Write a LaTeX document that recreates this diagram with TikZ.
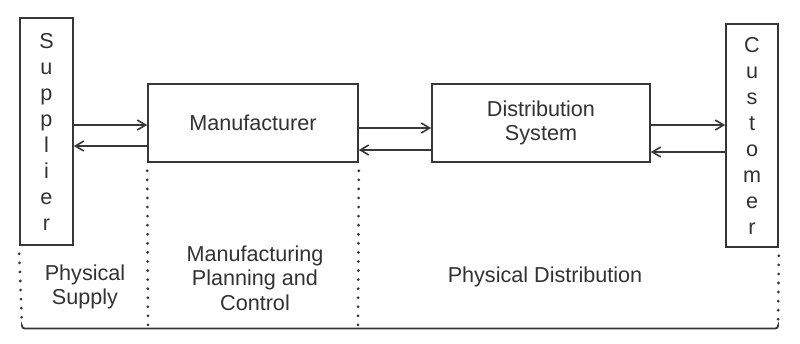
\documentclass[tikz,border=0pt]{standalone}
\usepackage{fontspec}
\setmainfont{Liberation Sans}
\usetikzlibrary{arrows.meta,positioning}
\definecolor{ScLine}{RGB}{55,55,55}
\definecolor{ScText}{RGB}{50,50,50}
\tikzset{
  sc/box/.style={
    draw=ScLine,
    line width=1.2pt,
    fill=white,
    align=center,
    text=ScText,
    inner sep=0pt,
    font=\fontsize{16.2}{18.5}\selectfont
  },
  sc/tallbox/.style={
    sc/box,
    font=\fontsize{16.2}{19.5}\selectfont
  },
  sc/arrow/.style={-{Straight Barb[length=2.2mm,width=2.6mm]}, line width=1.2pt, draw=ScLine},
  sc/divider/.style={draw=ScLine, line width=2.3pt, line cap=round, dash pattern=on 0pt off 6.8pt},
  sc/base/.style={draw=ScLine, line width=1.4pt},
  sc/label/.style={text=ScText, align=center, font=\fontsize{16.2}{18.5}\selectfont}
}

\begin{document}
\begin{tikzpicture}[x=0.75pt,y=-0.75pt]
  \useasboundingbox (0,0) rectangle (800,343);
  % boxes
  \node[sc/tallbox,minimum width=39.75pt,minimum height=170.25pt] (sup) at (46.5,131.5) {S\\u\\p\\p\\l\\i\\e\\r};
  \node[sc/box,minimum width=157.5pt,minimum height=58.5pt] (man) at (253,123) {Manufacturer};
  \node[sc/box,minimum width=163.5pt,minimum height=58.5pt] (dis) at (541,123) {Distribution\\System};
  \node[sc/tallbox,minimum width=39pt,minimum height=167.25pt] (cus) at (752,135.5) {C\\u\\s\\t\\o\\m\\e\\r};

  % flows
  \draw[sc/arrow] (sup.east |- 0,125) -- (man.west |- 0,125);
  \draw[sc/arrow] (man.west |- 0,146) -- (sup.east |- 0,146);
  \draw[sc/arrow] (man.east |- 0,128) -- (dis.west |- 0,128);
  \draw[sc/arrow] (dis.west |- 0,150) -- (man.east |- 0,150);
  \draw[sc/arrow] (dis.east |- 0,125) -- (cus.west |- 0,125);
  \draw[sc/arrow] (cus.west |- 0,152) -- (dis.east |- 0,152);

  % phases
  \coordinate (b1) at (22,326);
  \coordinate (b2) at (148,326);
  \coordinate (b3) at (358,326);
  \coordinate (b4) at (778,326);
  \draw[sc/divider] (sup.south west) ++(0,8) -- (b1);
  \draw[sc/divider] (man.south west) ++(0,8) -- (b2);
  \draw[sc/divider] (man.south east) ++(0,8) -- (b3);
  \draw[sc/divider] (cus.south east) ++(0,8) -- (b4);
  \draw[sc/base,rounded corners=2pt] (b1) -- ++(0,2.5) -- (b4 |- 0,328.5) -- (b4);

  \node[sc/label] (ps) at (85,287) {Physical\\Supply};
  \node[sc/label] (mpc) at (255,278) {Manufacturing\\Planning and\\Control};
  \node[sc/label] (pd) at (545,277) {Physical Distribution};
\end{tikzpicture}
\end{document}
